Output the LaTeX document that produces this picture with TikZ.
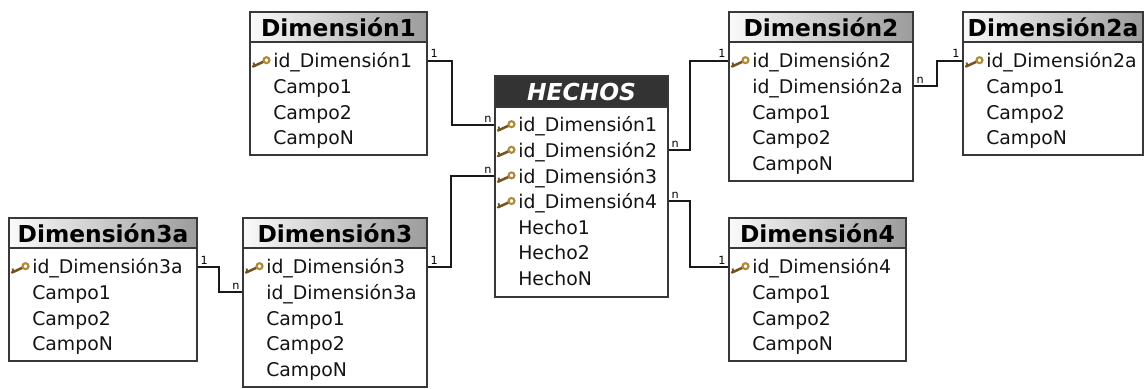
\documentclass[tikz,border=0pt]{standalone}
\usepackage{fontspec}
\setmainfont{DejaVu Sans}
\usetikzlibrary{fit}
\definecolor{borde}{HTML}{383838}
\definecolor{oscuro}{HTML}{333333}
\definecolor{llaveoro}{HTML}{B08A38}
\definecolor{llavecafe}{HTML}{735420}
\tikzset{
	x=0.025cm, y=-0.025cm,
	caja/.style={draw=borde, line width=1.4pt, fill=white, inner sep=0pt},
	cabecera/.style={draw=borde, line width=1.4pt, left color=gray!4, right color=gray!78, inner sep=0pt},
	cabhechos/.style={draw=borde, line width=1.4pt, fill=oscuro, inner sep=0pt},
	titulo/.style={anchor=base, inner sep=0pt, font=\fontsize{16.6}{18}\selectfont\bfseries, text=black},
	fila/.style={anchor=west, inner sep=0pt, text height=10.5pt, text depth=0pt, font=\fontsize{13.4}{16}\selectfont, text=black!92},
	card/.style={inner sep=1.2pt, font=\fontsize{8}{9}\selectfont},
	enlace/.style={draw=black!90, line width=1.3pt},
	llave/.pic={
		\draw[llavecafe, line width=1.8pt, line cap=round] (-8,4.5) -- (3,-0.5);
		\draw[llavecafe, line width=1.3pt] (-6.5,4) -- (-7.5,0.5);
		\draw[llaveoro, line width=1.5pt] (5.5,-1.8) circle (3);
	}
}

\begin{document}
\begin{tikzpicture}
\clip (0,0) rectangle (1144,388);

% Dimension1
\node[caja, fit={(250,12) (427,155)}] (d1) {};
\node[cabecera, fit={(250,12) (427,42)}] (d1c) {};
\node[titulo] (d1t) at (338.5,36.5) {Dimensión1};
\foreach \txt [count=\k from 0] in {id\_Dimensión1, Campo1, Campo2, CampoN}
	\node[fila] (d1r\k) at (273,60.6+25.6*\k) {\txt};
\pic at (261,62) {llave};

% HECHOS
\node[caja, fit={(495,76) (668,297)}] (h) {};
\node[cabhechos, fit={(495,76) (668,107)}] (hc) {};
\node[titulo, text=white, font=\fontsize{16.6}{18}\selectfont\bfseries\itshape] (ht) at (581.5,100.5) {HECHOS};
\foreach \txt [count=\k from 0] in {id\_Dimensión1, id\_Dimensión2, id\_Dimensión3, id\_Dimensión4, Hecho1, Hecho2, HechoN}
	\node[fila] (hr\k) at (518,124.6+25.6*\k) {\txt};
\foreach \k in {0,...,3}
	\pic at (506,126+25.6*\k) {llave};

% Dimension2
\node[caja, fit={(729,12) (913,181)}] (d2) {};
\node[cabecera, fit={(729,12) (913,42)}] (d2c) {};
\node[titulo] (d2t) at (821,36.5) {Dimensión2};
\foreach \txt [count=\k from 0] in {id\_Dimensión2, id\_Dimensión2a, Campo1, Campo2, CampoN}
	\node[fila] (d2r\k) at (752,60.6+25.6*\k) {\txt};
\pic at (740,62) {llave};

% Dimension2a
\node[caja, fit={(963,12) (1143,155)}] (d2a) {};
\node[cabecera, fit={(963,12) (1143,42)}] (d2ac) {};
\node[titulo] (d2at) at (1053,36.5) {Dimensión2a};
\foreach \txt [count=\k from 0] in {id\_Dimensión2a, Campo1, Campo2, CampoN}
	\node[fila] (d2ar\k) at (986,60.6+25.6*\k) {\txt};
\pic at (974,62) {llave};

% Dimension3a
\node[caja, fit={(9,218) (197,361)}] (d3a) {};
\node[cabecera, fit={(9,218) (197,248)}] (d3ac) {};
\node[titulo] (d3at) at (103,242.5) {Dimensión3a};
\foreach \txt [count=\k from 0] in {id\_Dimensión3a, Campo1, Campo2, CampoN}
	\node[fila] (d3ar\k) at (32,266.6+25.6*\k) {\txt};
\pic at (20,268) {llave};

% Dimension3
\node[caja, fit={(243,218) (427,387)}] (d3) {};
\node[cabecera, fit={(243,218) (427,248)}] (d3c) {};
\node[titulo] (d3t) at (335,242.5) {Dimensión3};
\foreach \txt [count=\k from 0] in {id\_Dimensión3, id\_Dimensión3a, Campo1, Campo2, CampoN}
	\node[fila] (d3r\k) at (266,266.6+25.6*\k) {\txt};
\pic at (254,268) {llave};

% Dimension4
\node[caja, fit={(729,218) (906,361)}] (d4) {};
\node[cabecera, fit={(729,218) (906,248)}] (d4c) {};
\node[titulo] (d4t) at (817.5,242.5) {Dimensión4};
\foreach \txt [count=\k from 0] in {id\_Dimensión4, Campo1, Campo2, CampoN}
	\node[fila] (d4r\k) at (752,266.6+25.6*\k) {\txt};
\pic at (740,268) {llave};

% relaciones
\draw[enlace] (d1.east |- d1r0) node[card, anchor=south west] {1} -- ++(24,0) |- (h.west |- hr0) node[card, anchor=south east] {n};
\draw[enlace] (h.east |- hr1) node[card, anchor=south west] {n} -- ++(21,0) |- (d2.west |- d2r0) node[card, anchor=south east] {1};
\draw[enlace] (d2.east |- d2r1) node[card, anchor=south west] {n} -- ++(23,0) |- (d2a.west |- d2ar0) node[card, anchor=south east] {1};
\draw[enlace] (d3.east |- d3r0) node[card, anchor=south west] {1} -- ++(23,0) |- (h.west |- hr2) node[card, anchor=south east] {n};
\draw[enlace] (d3a.east |- d3ar0) node[card, anchor=south west] {1} -- ++(21,0) |- (d3.west |- d3r1) node[card, anchor=south east] {n};
\draw[enlace] (h.east |- hr3) node[card, anchor=south west] {n} -- ++(21,0) |- (d4.west |- d4r0) node[card, anchor=south east] {1};
\end{tikzpicture}
\end{document}
